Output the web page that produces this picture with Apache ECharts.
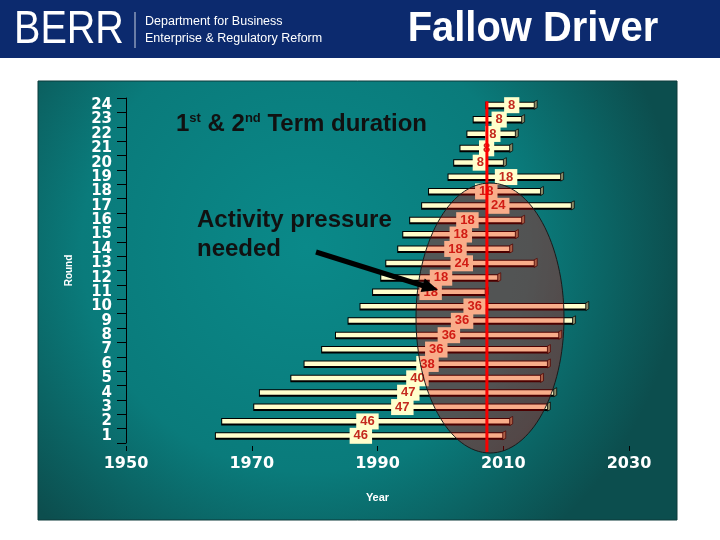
<!DOCTYPE html>
<html>
<head>
<meta charset="utf-8">
<script src="https://cdn.jsdelivr.net/npm/echarts@6/dist/echarts.min.js"></script>
<style>html,body{margin:0;padding:0;background:#fff;}#c{width:720px;height:540px;}</style>
</head>
<body>
<div id="c"></div>
<script>
// ---- data ----
const rounds = ['1','2','3','4','5','6','7','8','9','10','11','12','13','14','15','16','17','18','19','20','21','22','23','24'];
const startYear = [1964.3, 1965.3, 1970.4, 1971.3, 1976.3, 1978.4, 1981.2, 1983.4, 1985.4, 1987.3, 1989.3, 1990.6,
                   1991.4, 1993.3, 1994.1, 1995.2, 1997.1, 1998.2, 2001.3, 2002.2, 2003.2, 2004.3, 2005.3, 2007.3];
const endYear = [2010.4, 2011.5, 2017.5, 2018.5, 2016.4, 2017.5, 2017.5, 2019.3, 2021.5, 2023.6, 2007.6, 2009.6,
                 2015.4, 2011.5, 2012.4, 2013.4, 2021.3, 2016.4, 2019.6, 2010.5, 2011.5, 2012.4, 2013.4, 2015.4];
const termLabel = [46, 46, 47, 47, 40, 38, 36, 36, 36, 36, 18, 18, 24, 18, 18, 18, 24, 18, 18, 8, 8, 8, 8, 8];
const xTicks = [1950, 1970, 1990, 2010, 2030];
const nowYear = 2007.4;

const barData = rounds.map((r, i) => [startYear[i], endYear[i], i, termLabel[i]]);

const chart = echarts.init(document.getElementById('c'), null, {renderer: 'canvas'});
const F = '"Liberation Sans", Arial, sans-serif';
const D = '"DejaVu Sans", Verdana, sans-serif';

const option = {
  animation: false,
  backgroundColor: '#ffffff',
  grid: {left: 126, right: 91, top: 98, bottom: 97},
  xAxis: {
    type: 'value', min: xTicks[0], max: xTicks[xTicks.length - 1], interval: 20,
    offset: 3,
    axisLine: {show: false},
    axisTick: {show: true, length: 5, lineStyle: {color: '#000', width: 1}},
    splitLine: {show: false},
    axisLabel: {color: '#fff', fontFamily: D, fontWeight: 'bold', fontSize: 16, margin: 10,
                formatter: v => String(v)},
    name: 'Year', nameLocation: 'middle', nameGap: 46,
    nameTextStyle: {color: '#fff', fontFamily: F, fontWeight: 'bold', fontSize: 11}
  },
  yAxis: {
    type: 'category', data: rounds, boundaryGap: true,
    axisLine: {show: true, lineStyle: {color: '#000', width: 1}},
    axisTick: {show: true, length: 9, interval: 0, lineStyle: {color: '#000'}},
    axisLabel: {color: '#fff', fontFamily: D, fontWeight: 'bold', fontSize: 15, margin: 14, interval: 0},
    splitLine: {show: false},
    name: 'Round', nameLocation: 'middle', nameGap: 52, nameRotate: 90,
    nameTextStyle: {color: '#fff', fontFamily: F, fontWeight: 'bold', fontSize: 10}
  },
  series: [{
    type: 'custom',
    data: barData,
    encode: {x: [0, 1], y: 2},
    renderItem: function (params, api) {
      const s = api.value(0), e = api.value(1), idx = api.value(2), d = api.value(3);
      const p0 = api.coord([s, idx]);
      const p1 = api.coord([e, idx]);
      const pm = api.coord([(s + e) / 2, idx]);
      const x0 = p0[0], x1 = p1[0], y = p0[1];
      return {
        type: 'group',
        children: [
          {type: 'rect', shape: {x: x0 - 1, y: y - 3.5, width: x1 - x0 - 1, height: 7.5}, style: {fill: '#000'}},
          {type: 'rect', shape: {x: x0, y: y - 2.5, width: x1 - x0 - 3, height: 4.5}, style: {fill: '#ffffcc'}},
          {type: 'polygon', shape: {points: [[x1 - 3, y - 3.5], [x1, y - 5], [x1, y + 2.5], [x1 - 3, y + 4]]},
           style: {fill: '#8a8a66', stroke: '#000', lineWidth: 0.7}},
          {type: 'text', x: pm[0], y: y, z2: 10,
           style: {text: String(d), align: 'center', verticalAlign: 'middle', fill: '#c42a1e',
                   font: 'bold 13px ' + F, backgroundColor: '#ffffcc', padding: [2, 4, 1, 4]}}
        ]
      };
    }
  }, {
    type: 'custom',
    z: 3,
    data: [[nowYear, rounds.length - 1]],
    encode: {x: 0, y: 1},
    renderItem: function (params, api) {
      const p = api.coord([api.value(0), api.value(1)]);
      const cs = params.coordSys;
      return {
        type: 'line',
        shape: {x1: p[0], y1: p[1] - 4, x2: p[0], y2: cs.y + cs.height + 9},
        style: {stroke: '#ff0000', lineWidth: 3}
      };
    }
  }],
  graphic: [
    // header band
    {type: 'rect', z: -100, shape: {x: 0, y: 0, width: 720, height: 58}, style: {fill: '#0c2a6e'}},
    {type: 'text', z: -90, x: 14, y: 30, scaleX: 0.86,
     style: {text: 'BERR', font: 'normal 46px ' + F, fill: '#fff', verticalAlign: 'middle', align: 'left'}},
    {type: 'line', z: -90, shape: {x1: 135, y1: 12, x2: 135, y2: 48}, style: {stroke: '#c8d0e0', lineWidth: 1}},
    {type: 'text', z: -90, x: 145, y: 22,
     style: {text: 'Department for Business', font: 'normal 12.5px ' + F, fill: '#fff', verticalAlign: 'middle'}},
    {type: 'text', z: -90, x: 145, y: 39,
     style: {text: 'Enterprise & Regulatory Reform', font: 'normal 12.5px ' + F, fill: '#fff', verticalAlign: 'middle'}},
    {type: 'text', z: -90, x: 533, y: 29, scaleX: 0.95,
     style: {text: 'Fallow Driver', font: 'bold 42px ' + F, fill: '#fff', align: 'center', verticalAlign: 'middle'}},
    // teal panel
    {type: 'rect', z: -100, shape: {x: 38, y: 81, width: 639, height: 439},
     style: {
       fill: new echarts.graphic.RadialGradient(0.42, 0.38, 0.85, [
         {offset: 0, color: '#0a8989'}, {offset: 0.6, color: '#0a7b7b'}, {offset: 1, color: '#0c4e4e'}
       ]),
       stroke: '#0d3a3a', lineWidth: 1
     }},
    // annotation texts
    {type: 'text', z: 50, x: 176, y: 124,
     style: {
       text: '{m|1}{s|st}{m| & 2}{s|nd}{m| Term duration}',
       verticalAlign: 'middle',
       rich: {
         m: {font: 'bold 24px ' + F, fill: '#111'},
         s: {font: 'bold 13px ' + F, fill: '#111', verticalAlign: 'top'}
       }
     }},
    {type: 'text', z: 50, x: 197, y: 220,
     style: {text: 'Activity pressure', font: 'bold 24px ' + F, fill: '#111', verticalAlign: 'middle'}},
    {type: 'text', z: 50, x: 197, y: 249,
     style: {text: 'needed', font: 'bold 24px ' + F, fill: '#111', verticalAlign: 'middle'}},
    // ellipse overlay
    {type: 'ellipse', z: 100, shape: {cx: 490, cy: 318, rx: 74, ry: 135},
     style: {fill: 'rgba(235,0,0,0.32)', stroke: '#1a1a1a', lineWidth: 1}},
    // arrow
    {type: 'line', z: 110, shape: {x1: 316, y1: 252, x2: 424, y2: 286}, style: {stroke: '#000', lineWidth: 5}},
    {type: 'polygon', z: 110, shape: {points: [[438, 290], [424.8, 278.5], [420.6, 291.9]]}, style: {fill: '#000'}}
  ]
};
chart.setOption(option);
</script>
</body>
</html>
